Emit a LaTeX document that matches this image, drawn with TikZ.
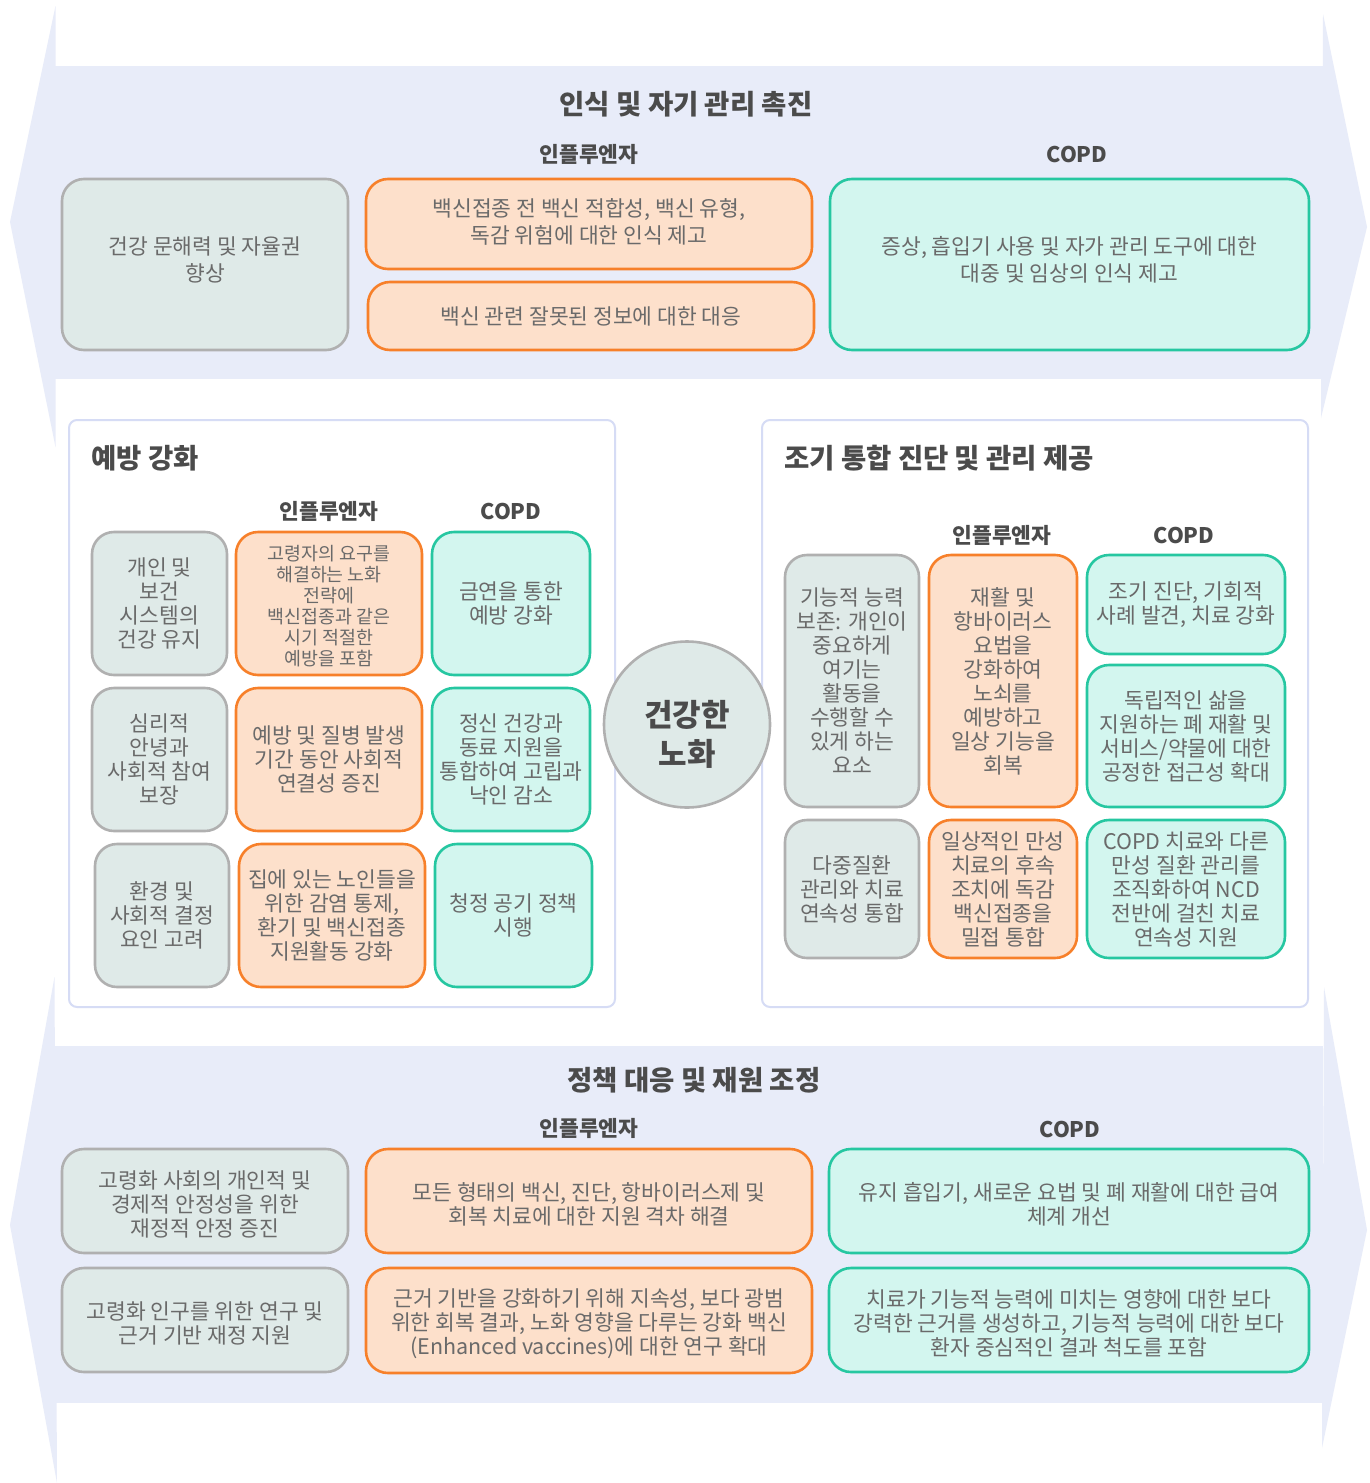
\documentclass[tikz,border=0pt]{standalone}
\usepackage{fontspec}
\setmainfont{Noto Sans CJK KR}
\definecolor{bandc}{HTML}{E8ECF9}
\definecolor{gfill}{HTML}{DFEAE8}
\definecolor{gline}{HTML}{B0B0B0}
\definecolor{ofill}{HTML}{FDE0CB}
\definecolor{oline}{HTML}{F7802A}
\definecolor{tfill}{HTML}{D3F6EF}
\definecolor{tline}{HTML}{26C7A1}
\definecolor{panelline}{HTML}{D6DCF5}
\definecolor{txt}{HTML}{6A6A6A}
\definecolor{ttl}{HTML}{4B4B4B}
\newcommand{\kbox}[7]{\node[#1, minimum width={(#5-#3)*1pt}, minimum height={(#6-#4)*1pt}] (#2) at ({(#3+#5)/2},{(#4+#6)/2}) {#7};}
\newcommand{\upfix}{\rule[-10pt]{0pt}{0pt}}
\newcommand{\dnfix}{\rule{0pt}{25pt}}
\tikzset{
  base/.style={draw, line width=2.6pt, rounded corners=22pt, align=center, inner sep=0pt, text=txt, font=\fontsize{21.5}{24}\selectfont},
  gbox/.style={base, fill=gfill, draw=gline},
  obox/.style={base, fill=ofill, draw=oline},
  tbox/.style={base, fill=tfill, draw=tline},
  smalltext/.style={font=\fontsize{18.4}{21}\selectfont},
  loose/.style={font=\fontsize{21.5}{27}\selectfont},
  panel/.style={draw=panelline, fill=white, line width=2pt, rounded corners=8pt},
  bigtitle/.style={font=\bfseries\fontsize{27.5}{32}\selectfont, text=ttl, inner sep=0pt},
  head/.style={font=\bfseries\fontsize{21.5}{25}\selectfont, text=ttl, inner sep=0pt},
  hub/.style={circle, draw=gline, fill=gfill, line width=2.6pt, minimum size=166pt, inner sep=0pt, align=center, text=ttl, font=\bfseries\fontsize{31}{39}\selectfont},
}
\begin{document}
\begin{tikzpicture}[x=1pt,y=-1pt]
\useasboundingbox (0,0) rectangle (1370,1483);
\fill[white] (0,0) rectangle (1370,1483);
% top band
\fill[bandc] (55.5,6) -- (10,222) -- (55.5,447) -- cycle;
\fill[bandc] (55,66) rectangle (1323,379);
\fill[bandc] (1323,14) -- (1367,227) -- (1321,418) -- cycle;
% bottom band
\fill[bandc] (54.5,977) -- (10,1225) -- (57,1483) -- cycle;
\fill[bandc] (55,1046) rectangle (1323,1403);
\fill[bandc] (1324,987) -- (1367,1230) -- (1322,1448) -- cycle;

% top band contents
\node[bigtitle] (ttop) at (686,104) {인식 및 자기 관리 촉진};
\node[head] (htopi) at (589,154) {인플루엔자};
\node[head] (htopc) at (1077,154) {COPD};
\kbox{gbox,loose}{gtop}{62}{179}{348}{350}{건강 문해력 및 자율권\\향상\upfix}
\kbox{obox,loose}{otopa}{366}{179}{812}{269}{백신접종 전 백신 적합성, 백신 유형,\\독감 위험에 대한 인식 제고\rule[-6pt]{0pt}{0pt}}
\kbox{obox}{otopb}{368}{282}{814}{350}{백신 관련 잘못된 정보에 대한 대응}
\kbox{tbox,loose}{ttopa}{830}{179}{1309}{350}{증상, 흡입기 사용 및 자가 관리 도구에 대한\\대중 및 임상의 인식 제고\rule[-12pt]{0pt}{0pt}}

% left panel
\draw[panel] (69,420) rectangle (615,1007);
\node[bigtitle, anchor=west] (tleft) at (91,458) {예방 강화};
\node[head] (hlefti) at (329,511) {인플루엔자};
\node[head] (hleftc) at (511,511) {COPD};
\kbox{gbox}{lg1}{92}{532}{227}{675}{개인 및\\보건\\시스템의\\건강 유지}
\kbox{obox,smalltext}{lo1}{236}{532}{422}{675}{\rule{0pt}{20pt}고령자의 요구를\\해결하는 노화\\전략에\\백신접종과 같은\\시기 적절한\\예방을 포함}
\kbox{tbox}{lt1}{432}{532}{590}{675}{금연을 통한\\예방 강화}
\kbox{gbox}{lg2}{92}{688}{227}{831}{심리적\\안녕과\\사회적 참여\\보장}
\kbox{obox}{lo2}{236}{688}{422}{831}{예방 및 질병 발생\\기간 동안 사회적\\연결성 증진}
\kbox{tbox}{lt2}{432}{688}{590}{831}{정신 건강과\\동료 지원을\\통합하여 고립과\\낙인 감소}
\kbox{gbox}{lg3}{95}{844}{229}{987}{환경 및\\사회적 결정\\요인 고려}
\kbox{obox}{lo3}{239}{844}{425}{987}{집에 있는 노인들을\\위한 감염 통제,\\환기 및 백신접종\\지원활동 강화}
\kbox{tbox}{lt3}{435}{844}{592}{987}{청정 공기 정책\\시행}

% right panel
\draw[panel] (762,420) rectangle (1308,1007);
\node[bigtitle, anchor=west] (tright) at (784,458) {조기 통합 진단 및 관리 제공};
\node[head] (hrighti) at (1002,535) {인플루엔자};
\node[head] (hrightc) at (1184,535) {COPD};
\kbox{gbox}{rg1}{785}{555}{919}{807}{기능적 능력\\보존: 개인이\\중요하게\\여기는\\활동을\\수행할 수\\있게 하는\\요소}
\kbox{obox}{ro1}{929}{555}{1077}{807}{재활 및\\항바이러스\\요법을\\강화하여\\노쇠를\\예방하고\\일상 기능을\\회복}
\kbox{tbox}{rt1}{1087}{555}{1285}{654}{조기 진단, 기회적\\사례 발견, 치료 강화}
\kbox{tbox}{rt2}{1087}{665}{1285}{807}{독립적인 삶을\\지원하는 폐 재활 및\\서비스/약물에 대한\\공정한 접근성 확대}
\kbox{gbox}{rg2}{785}{820}{919}{958}{다중질환\\관리와 치료\\연속성 통합}
\kbox{obox}{ro2}{929}{820}{1077}{958}{일상적인 만성\\치료의 후속\\조치에 독감\\백신접종을\\밀접 통합}
\kbox{tbox}{rt3}{1087}{820}{1285}{958}{COPD 치료와 다른\\만성 질환 관리를\\조직화하여 NCD\\전반에 걸친 치료\\연속성 지원}

% centre
\node[hub] (hubc) at (687,724.5) {\rule{0pt}{46pt}건강한\\노화};

% bottom band contents
\node[bigtitle] (tbot) at (694,1080) {정책 대응 및 재원 조정};
\node[head] (hboti) at (589,1128) {인플루엔자};
\node[head] (hbotc) at (1070,1129) {COPD};
\kbox{gbox}{bg1}{62}{1149}{348}{1253}{\dnfix 고령화 사회의 개인적 및\\경제적 안정성을 위한\\재정적 안정 증진}
\kbox{gbox}{bg2}{62}{1268}{348}{1372}{\dnfix 고령화 인구를 위한 연구 및\\근거 기반 재정 지원}
\kbox{obox}{bo1}{366}{1149}{812}{1253}{\dnfix 모든 형태의 백신, 진단, 항바이러스제 및\\회복 치료에 대한 지원 격차 해결}
\kbox{obox}{bo2}{366}{1268}{812}{1373}{\dnfix 근거 기반을 강화하기 위해 지속성, 보다 광범\\위한 회복 결과, 노화 영향을 다루는 강화 백신\\(Enhanced vaccines)에 대한 연구 확대}
\kbox{tbox}{bt1}{829}{1149}{1309}{1253}{\dnfix 유지 흡입기, 새로운 요법 및 폐 재활에 대한 급여\\체계 개선}
\kbox{tbox}{bt2}{829}{1268}{1309}{1372}{\dnfix 치료가 기능적 능력에 미치는 영향에 대한 보다\\강력한 근거를 생성하고, 기능적 능력에 대한 보다\\환자 중심적인 결과 척도를 포함}
\end{tikzpicture}
\end{document}
